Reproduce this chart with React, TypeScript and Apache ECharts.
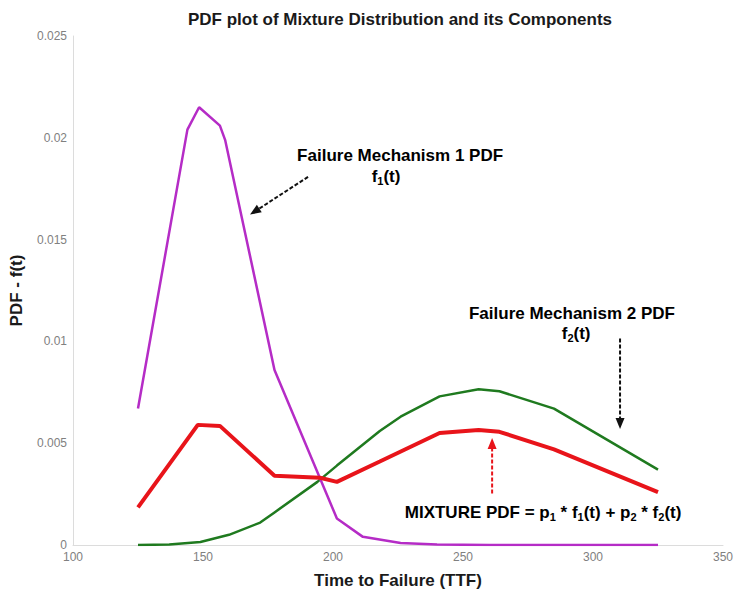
import React, { useEffect, useRef } from 'react';
import * as echarts from 'echarts';

// x-axis (Time to Failure) range / ticks
const xTicks = [100, 150, 200, 250, 300, 350];
const yTicks = [0, 0.005, 0.01, 0.015, 0.02, 0.025];

// Failure Mechanism 1 PDF  f1(t)
const f1Points: [number, number][] = [
  [125, 0.0067], [144, 0.0204], [148.5, 0.0215], [156.5, 0.0206], [158.5, 0.0199],
  [177.5, 0.0086], [201.5, 0.0013], [211.5, 0.0004], [226, 0.0001], [240, 0.00002],
  [260, 0], [290, 0], [325, 0],
];

// Failure Mechanism 2 PDF  f2(t)
const f2Points: [number, number][] = [
  [125, 0], [137, 0.00003], [149, 0.00015], [160, 0.0005], [172, 0.0011], [177.5, 0.0016],
  [194, 0.0031], [201.5, 0.0039], [218, 0.0056], [226, 0.0063], [241, 0.0073],
  [256, 0.00765], [264, 0.00755], [285, 0.0067], [325, 0.0037],
];

// Mixture PDF = p1*f1 + p2*f2
const mixPoints: [number, number][] = [
  [125, 0.00185], [148, 0.0059], [156.5, 0.00585], [177.5, 0.0034], [195, 0.0033],
  [201.5, 0.0031], [218, 0.0041], [241, 0.0055], [256, 0.00565], [264, 0.00556],
  [285, 0.0047], [325, 0.0026],
];

const FONT = '"Liberation Sans", Arial, Helvetica, sans-serif';
const BOLD = 17;

export default function App() {
  const ref = useRef<HTMLDivElement>(null);

  useEffect(() => {
    document.body.style.margin = '0';
    const chart = echarts.init(ref.current!, null, { renderer: 'svg' });
    chart.setOption({
      animation: false,
      backgroundColor: '#ffffff',
      grid: { left: 73, right: 14, top: 36, bottom: 44, containLabel: false },
      xAxis: {
        type: 'value',
        min: xTicks[0],
        max: xTicks[xTicks.length - 1],
        interval: 50,
        name: 'Time to Failure (TTF)',
        nameLocation: 'middle',
        nameGap: 27,
        nameTextStyle: { fontFamily: FONT, fontWeight: 'bold', fontSize: BOLD, color: '#1a1a1a' },
        axisLine: { show: true, lineStyle: { color: '#dcdcdc', width: 1 } },
        axisTick: { show: false },
        axisLabel: { fontFamily: FONT, fontSize: 12, color: '#808080', margin: 6 },
        splitLine: { show: false },
      },
      yAxis: {
        type: 'value',
        min: yTicks[0],
        max: yTicks[yTicks.length - 1],
        interval: 0.005,
        name: 'PDF - f(t)',
        nameLocation: 'middle',
        nameGap: 48,
        nameTextStyle: { fontFamily: FONT, fontWeight: 'bold', fontSize: BOLD, color: '#1a1a1a' },
        axisLine: { show: true, lineStyle: { color: '#dcdcdc', width: 1 } },
        axisTick: { show: false },
        axisLabel: { fontFamily: FONT, fontSize: 12, color: '#808080', margin: 6 },
        splitLine: { show: false },
      },
      series: [
        {
          name: 'f1', type: 'line', data: f1Points, showSymbol: false, smooth: false,
          lineStyle: { color: '#b52cc6', width: 2.5 }, z: 3,
        },
        {
          name: 'f2', type: 'line', data: f2Points, showSymbol: false, smooth: false,
          lineStyle: { color: '#1f7a1f', width: 2.5 }, z: 2,
        },
        {
          name: 'mix', type: 'line', data: mixPoints, showSymbol: false, smooth: false,
          lineStyle: { color: '#e8141a', width: 4 }, z: 4,
        },
      ],
    });

    const px = (x: number, y: number) => chart.convertToPixel({ gridIndex: 0 }, [x, y]) as number[];

    const arrow = (from: number[], to: number[], color: string) => {
      const a = px(from[0], from[1]);
      const b = px(to[0], to[1]);
      const dx = b[0] - a[0];
      const dy = b[1] - a[1];
      const len = Math.sqrt(dx * dx + dy * dy);
      const ux = dx / len;
      const uy = dy / len;
      const hl = 11;
      const hw = 4.5;
      const base = [b[0] - ux * hl, b[1] - uy * hl];
      return [
        {
          type: 'line',
          shape: { x1: a[0], y1: a[1], x2: base[0], y2: base[1] },
          style: { stroke: color, lineWidth: 2, lineDash: [4, 2] },
          silent: true,
        },
        {
          type: 'polygon',
          shape: {
            points: [
              [b[0], b[1]],
              [base[0] - uy * hw, base[1] + ux * hw],
              [base[0] + uy * hw, base[1] - ux * hw],
            ],
          },
          style: { fill: color },
          silent: true,
        },
      ];
    };

    const rich = {
      b: { fontFamily: FONT, fontWeight: 'bold', fontSize: BOLD, color: '#1a1a1a', lineHeight: 20 },
      s: { fontFamily: FONT, fontWeight: 'bold', fontSize: 11, color: '#1a1a1a', lineHeight: 12, padding: [9, 0, 0, 0] },
    };

    const label = (x: number, y: number, text: string) => {
      const p = px(x, y);
      return {
        type: 'text',
        x: p[0],
        y: p[1],
        silent: true,
        style: { text, rich, align: 'center', verticalAlign: 'middle' },
      };
    };

    chart.setOption({
      graphic: [
        {
          type: 'text',
          x: 400,
          y: 19,
          silent: true,
          style: {
            text: 'PDF plot of Mixture Distribution and its Components',
            fontFamily: FONT, fontWeight: 'bold', fontSize: BOLD, fill: '#1a1a1a',
            align: 'center', verticalAlign: 'middle',
          },
        },
        label(225.8, 0.01915, '{b|Failure Mechanism 1 PDF}'),
        label(220.4, 0.0181, '{b|f}{s|1}{b|(t)}'),
        ...arrow([190.4, 0.01808], [168.1, 0.01623], '#111111'),
        label(291.9, 0.01135, '{b|Failure Mechanism 2 PDF}'),
        label(293.5, 0.01038, '{b|f}{s|2}{b|(t)}'),
        ...arrow([310.4, 0.01014], [310.4, 0.0057], '#111111'),
        ...arrow([261.2, 0.00253], [261.2, 0.00526], '#e8141a'),
        label(280.8, 0.00158, '{b|MIXTURE PDF = p}{s|1}{b| * f}{s|1}{b|(t) + p}{s|2}{b| * f}{s|2}{b|(t)}'),
      ],
    });

    return () => chart.dispose();
  }, []);

  return (
    <div
      ref={ref}
      style={{ position: 'absolute', left: 0, top: 0, width: 737, height: 594 }}
    />
  );
}
